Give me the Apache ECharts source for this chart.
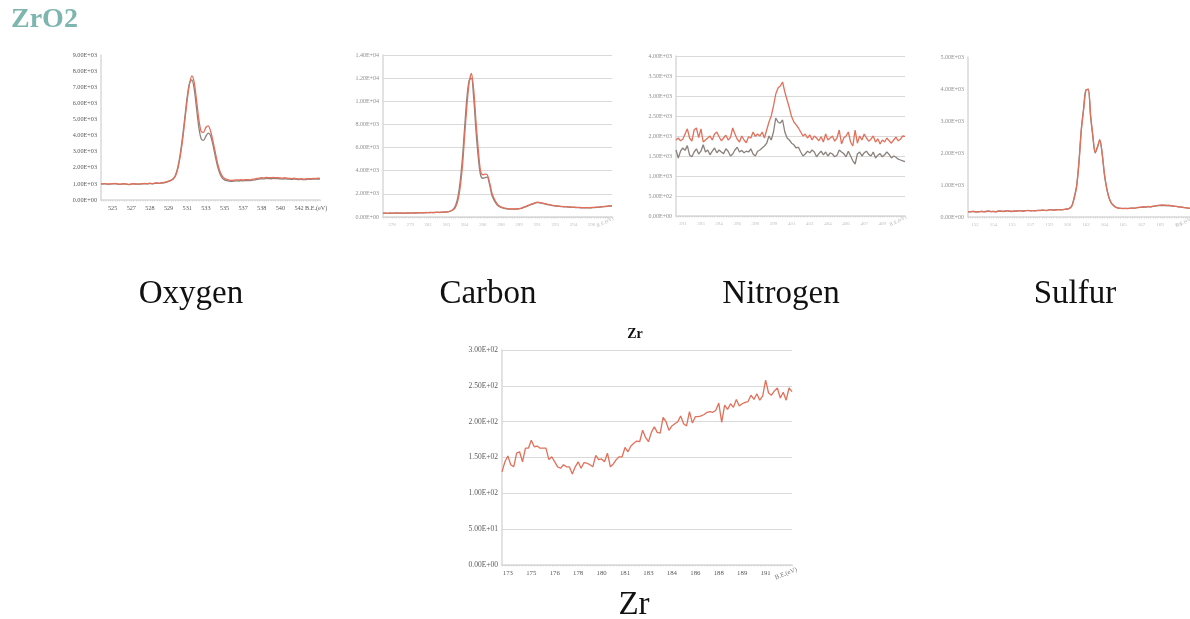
<!DOCTYPE html>
<html>
<head>
<meta charset="utf-8">
<script src="https://cdn.jsdelivr.net/npm/echarts@6/dist/echarts.min.js"></script>
<style>
  html, body { margin: 0; padding: 0; background: #ffffff; }
  #chart { width: 1190px; height: 619px; }
</style>
</head>
<body>
<div id="chart"></div>
<script>
// ---- O 1s (two scans) ----
const oTicks = ['525', '527', '528', '529', '531', '533', '535', '537', '538', '540', '542'];
const oRed = [
  1010, 1000, 1020, 990, 1000, 1010, 1030, 1000, 980, 1000,
  1010, 990, 970, 1000, 1010, 1000, 990, 1000, 1020, 1030,
  1010, 1040, 1020, 1050, 1060, 1040, 1070, 1090, 1120, 1170,
  1220, 1300, 1500, 1950, 2700, 3700, 4950, 6200, 7200, 7700,
  7300, 6200, 5000, 4250, 4200, 4500, 4600, 4300, 3700, 3000,
  2300, 1800, 1500, 1350, 1280, 1240, 1220, 1230, 1250, 1240,
  1260, 1240, 1270, 1260, 1250, 1290, 1300, 1340, 1360, 1380,
  1370, 1400, 1390, 1380, 1400, 1380, 1390, 1370, 1360, 1380,
  1350, 1340, 1330, 1350, 1320, 1310, 1320, 1300, 1310, 1330,
  1320, 1340, 1330, 1350, 1340
];
const oGray = [
  990, 1000, 1000, 980, 990, 1000, 1010, 990, 970, 990,
  1000, 980, 960, 990, 1000, 990, 980, 990, 1000, 1010,
  1000, 1020, 1010, 1030, 1040, 1030, 1050, 1070, 1100, 1150,
  1220, 1320, 1550, 2050, 2850, 3900, 5150, 6400, 7250, 7450,
  6900, 5700, 4500, 3800, 3700, 3950, 4150, 4000, 3450, 2750,
  2100, 1650, 1380, 1250, 1200, 1170, 1160, 1170, 1190, 1180,
  1200, 1190, 1210, 1200, 1200, 1230, 1250, 1280, 1300, 1320,
  1310, 1340, 1330, 1320, 1340, 1330, 1330, 1310, 1300, 1320,
  1300, 1290, 1280, 1300, 1280, 1270, 1280, 1260, 1270, 1290,
  1280, 1300, 1290, 1300, 1300
];

// ---- C 1s ----
const cTicks = ['278', '279', '281', '283', '284', '286', '288', '289', '291', '293', '294', '296'];
const cRed = [
  330, 340, 320, 350, 330, 340, 360, 340, 350, 330,
  350, 360, 340, 370, 350, 360, 380, 360, 370, 390,
  380, 400, 390, 400, 410, 400, 420, 430, 440, 470,
  520, 620, 850, 1400, 2500, 4300, 7000, 9600, 11600, 12400,
  11000, 8300, 5900, 4000, 3650, 3700, 3650, 3000, 2100, 1600,
  1250, 1000, 880, 800, 760, 720, 700, 690, 690, 700,
  720, 760, 850, 920, 1000, 1080, 1150, 1220, 1280, 1260,
  1230, 1180, 1130, 1080, 1040, 1000, 970, 950, 930, 910,
  900, 890, 870, 860, 850, 840, 830, 820, 810, 800,
  810, 800, 820, 830, 850, 860, 880, 900, 920, 940,
  970, 980
];
const cGray = [
  310, 330, 310, 330, 320, 330, 340, 330, 330, 320,
  340, 340, 330, 350, 340, 350, 360, 350, 360, 370,
  370, 380, 380, 390, 400, 390, 410, 420, 430, 460,
  540, 680, 1000, 1700, 3000, 5000, 7700, 10300, 11800, 12000,
  10300, 7500, 5200, 3650, 3350, 3400, 3450, 2800, 1900, 1450,
  1130, 920, 820, 760, 720, 690, 680, 680, 680, 690,
  710, 740, 820, 890, 970, 1050, 1120, 1190, 1250, 1230,
  1200, 1150, 1100, 1060, 1020, 980, 950, 930, 910, 890,
  880, 870, 850, 840, 830, 820, 810, 800, 790, 780,
  790, 780, 800, 810, 830, 840, 860, 880, 900, 920,
  950, 960
];

// ---- N 1s ----
const nTicks = ['391', '393', '394', '396', '398', '399', '401', '403', '404', '406', '407', '409'];
const nRed = [
  1900, 1950, 1880, 1920, 2050, 2180, 1950, 1870, 2150, 2200,
  1960, 2180, 1850, 1900, 1950, 2000, 1900, 2050, 2100, 1980,
  1880, 1950, 2020, 1900, 1960, 2200, 2050, 1920, 1850, 2000,
  1900, 1830, 1980, 1950, 2100, 1990, 2050, 2000, 2100, 1950,
  2150, 2350, 2500, 2750, 3050, 3200, 3250, 3350, 3100, 2900,
  2700, 2480, 2350, 2280, 2200, 2100, 2000, 2050, 1950, 2030,
  1900, 2000, 1950, 1880, 1980, 1850, 2050, 1900, 1950, 2000,
  1870, 1950, 2150, 1800, 1950, 2000, 2100, 1850, 1750, 2150,
  1820, 2000, 1900, 2050, 1950, 1870, 1920, 2000, 1850, 1930,
  1800, 1900, 1850, 1950, 1880, 1820, 1900, 1970, 1880, 1920,
  2000, 1990
];
const nGray = [
  1650, 1450, 1620, 1700, 1640, 1760, 1520, 1480, 1600, 1680,
  1550, 1620, 1780, 1600, 1650, 1530, 1620, 1700, 1580, 1650,
  1600, 1560, 1680, 1620, 1500, 1550, 1650, 1720, 1600, 1640,
  1580, 1620, 1600, 1680, 1550, 1500, 1620, 1650, 1700, 1750,
  1820, 2000, 1900, 2100, 2450, 2350, 2320, 2400, 2100, 1950,
  1900, 1820, 1780, 1700, 1720, 1600, 1500, 1550, 1620, 1580,
  1650, 1600, 1480, 1560, 1620, 1530, 1600, 1500, 1580, 1550,
  1480, 1520, 1650, 1600, 1560, 1480, 1620, 1500, 1380, 1300,
  1550, 1600, 1500, 1580, 1620, 1540, 1500, 1600, 1450, 1520,
  1560, 1480, 1530, 1600, 1540, 1450, 1500, 1470, 1420, 1400,
  1380, 1360
];

// ---- S 2p ----
const sTicks = ['152', '154', '155', '157', '159', '160', '162', '164', '165', '167', '169', '170'];
const sRed = [
  170, 160, 180, 170, 150, 170, 180, 160, 170, 190,
  170, 180, 160, 180, 190, 170, 180, 200, 180, 170,
  190, 180, 200, 190, 180, 200, 210, 190, 200, 190,
  210, 200, 220, 210, 200, 220, 230, 210, 220, 230,
  220, 230, 240, 250, 270, 350, 600, 950, 1700, 2700,
  3350, 3950, 4000, 3200, 2550, 2020, 2200, 2420, 2000, 1350,
  900, 600, 440, 360, 300, 280, 270, 260, 270, 260,
  270, 280, 270, 290, 300, 310, 320, 310, 330, 320,
  340, 350, 360, 370, 380, 370, 360, 370, 350, 340,
  330, 320, 310, 300, 290, 280, 270
];
const sGray = [
  160, 170, 170, 160, 160, 170, 170, 170, 180, 180,
  170, 170, 170, 180, 180, 180, 180, 190, 180, 180,
  180, 190, 190, 190, 190, 200, 200, 200, 200, 200,
  200, 210, 210, 210, 210, 220, 220, 220, 220, 230,
  230, 230, 240, 250, 280, 370, 640, 1000, 1750, 2750,
  3400, 3980, 3980, 3150, 2500, 2000, 2180, 2400, 1980, 1320,
  880, 590, 430, 350, 300, 280, 270, 270, 270, 270,
  270, 280, 280, 290, 300, 300, 310, 310, 320, 320,
  330, 340, 350, 360, 360, 360, 360, 350, 350, 340,
  330, 320, 310, 300, 290, 280, 270
];

// ---- Zr 3d ----
const zrTicks = ['173', '175', '176', '178', '180', '181', '183', '184', '186', '188', '189', '191'];
const zrRed = [
  130, 144, 152, 140, 137, 156, 158, 144, 163, 163,
  174, 165, 166, 163, 163, 163, 147, 151, 144, 137,
  135, 140, 137, 137, 127, 137, 144, 135, 143, 142,
  140, 137, 153, 147, 148, 144, 156, 137, 141, 147,
  151, 151, 164, 158, 166, 170, 173, 172, 188, 178,
  172, 185, 193, 185, 184, 206, 200, 188, 194, 197,
  200, 208, 197, 194, 214, 198, 207, 207, 208, 210,
  213, 214, 213, 216, 226, 199, 223, 217, 225, 220,
  231, 222, 225, 227, 228, 237, 231, 239, 230, 236,
  258, 240, 237, 243, 247, 233, 241, 230, 247, 242
];

const SERIF = '"Liberation Serif", "DejaVu Serif", serif';
const RED = '#E2705A';
const GRAY = '#8b817c';
const AXIS = '#d9d9d9';

// y-axis numbers in the 0.00E+00 style
function sci(v) {
  if (v === 0) return '0.00E+00';
  const e = Math.floor(Math.log10(Math.abs(v)) + 1e-9);
  const m = v / Math.pow(10, e);
  return m.toFixed(2) + 'E' + (e < 0 ? '-' : '+') + String(Math.abs(e)).padStart(2, '0');
}
// binding-energy sampling grid for a scan
function energies(n, start, step) {
  return Array.from({ length: n }, (_, i) => (start + i * step).toFixed(2));
}

const panels = [
  { box: { left: 101, top: 55, width: 219, height: 145 }, cats: energies(oRed.length, 524.0, 0.206),
    ticks: oTicks, off: 5, every: 8, ymax: 9000, yint: 1000, split: false,
    yColor: '#5a5a5a', ySize: 6.2, xColor: '#5a5a5a', xSize: 6.2, lines: [oGray, oRed], smooth: 0.3 },
  { box: { left: 383, top: 55, width: 229, height: 162 }, cats: energies(cRed.length, 276.8, 0.206),
    ticks: cTicks, off: 4, every: 8, ymax: 14000, yint: 2000, split: true,
    yColor: '#8e8e8e', ySize: 6, xColor: '#c2c2c2', xSize: 5, lines: [cGray, cRed], smooth: 0.3 },
  { box: { left: 676, top: 56, width: 229, height: 160 }, cats: energies(nRed.length, 390.3, 0.206),
    ticks: nTicks, off: 3, every: 8, ymax: 4000, yint: 500, split: true,
    yColor: '#8e8e8e', ySize: 6, xColor: '#c2c2c2', xSize: 5, lines: [nGray, nRed], smooth: false },
  { box: { left: 968, top: 57, width: 222, height: 160 }, cats: energies(sRed.length, 151.4, 0.206),
    ticks: sTicks, off: 3, every: 8, ymax: 5000, yint: 1000, split: false,
    yColor: '#8e8e8e', ySize: 6, xColor: '#c2c2c2', xSize: 5, lines: [sGray, sRed], smooth: 0.3 },
  { box: { left: 502, top: 350, width: 290, height: 215 }, cats: energies(zrRed.length, 172.8, 0.2),
    ticks: zrTicks, off: 2, every: 8, ymax: 300, yint: 50, split: true,
    yColor: '#5a5a5a', ySize: 7.5, xColor: '#5a5a5a', xSize: 6.8, lines: [zrRed], smooth: false }
];

const grids = [], xAxes = [], yAxes = [], series = [];
panels.forEach((p, k) => {
  grids.push(Object.assign({ containLabel: false }, p.box));
  xAxes.push({
    gridIndex: k, type: 'category', data: p.cats, boundaryGap: false,
    axisLine: { show: true, lineStyle: { color: AXIS, width: 1.5 } },
    axisTick: { show: true, interval: 0, length: 1.5, lineStyle: { color: '#cfcfcf', width: 0.6 } },
    axisLabel: {
      interval: (i) => i >= p.off && (i - p.off) % p.every === 0 && (i - p.off) / p.every < p.ticks.length,
      formatter: (v, i) => p.ticks[(i - p.off) / p.every],
      color: p.xColor, fontSize: p.xSize, fontFamily: SERIF, margin: 5
    },
    splitLine: { show: false }
  });
  yAxes.push({
    gridIndex: k, type: 'value', min: 0, max: p.ymax, interval: p.yint,
    axisLine: { show: true, lineStyle: { color: AXIS, width: 1.5 } },
    axisTick: { show: false },
    splitLine: { show: p.split, lineStyle: { color: AXIS, width: 1 } },
    axisLabel: { formatter: sci, color: p.yColor, fontSize: p.ySize, fontFamily: SERIF, margin: 4 }
  });
  p.lines.forEach((d, j) => {
    const isRed = (j === p.lines.length - 1);
    series.push({
      type: 'line', xAxisIndex: k, yAxisIndex: k, data: d,
      showSymbol: false, smooth: p.smooth, animation: false,
      lineStyle: { color: isRed ? RED : GRAY, width: 1.3 },
      z: isRed ? 3 : 2
    });
  });
});

const captionStyle = { fontFamily: SERIF, fontSize: 33, fill: '#111111', textAlign: 'center', textVerticalAlign: 'middle' };
const graphic = [
  { type: 'text', left: 11, top: 6, style: { text: 'ZrO2', fontFamily: SERIF, fontSize: 28, fontWeight: 'bold', fill: '#7db6ae' } },
  { type: 'text', x: 191, y: 294, style: Object.assign({ text: 'Oxygen' }, captionStyle) },
  { type: 'text', x: 488, y: 294, style: Object.assign({ text: 'Carbon' }, captionStyle) },
  { type: 'text', x: 781, y: 294, style: Object.assign({ text: 'Nitrogen' }, captionStyle) },
  { type: 'text', x: 1075, y: 294, style: Object.assign({ text: 'Sulfur' }, captionStyle) },
  { type: 'text', x: 634, y: 605, style: Object.assign({ text: 'Zr' }, captionStyle) },
  { type: 'text', x: 635, y: 334, style: { text: 'Zr', fontFamily: SERIF, fontSize: 14, fontWeight: 'bold', fill: '#111', textAlign: 'center', textVerticalAlign: 'middle' } },
  // axis titles at the right end of each energy axis
  { type: 'text', x: 305, y: 208, style: { text: 'B.E.(eV)', fontFamily: SERIF, fontSize: 6.2, fill: '#5a5a5a', textVerticalAlign: 'middle' } },
  { type: 'text', x: 775, y: 578, rotation: 0.38, style: { text: 'B.E.(eV)', fontFamily: SERIF, fontSize: 6.5, fill: '#7a7a7a', textVerticalAlign: 'middle' } },
  { type: 'text', x: 597, y: 226, rotation: 0.45, style: { text: 'B.E.(eV)', fontFamily: SERIF, fontSize: 5, fill: '#b5b5b5', textVerticalAlign: 'middle' } },
  { type: 'text', x: 890, y: 225, rotation: 0.45, style: { text: 'B.E.(eV)', fontFamily: SERIF, fontSize: 5, fill: '#b5b5b5', textVerticalAlign: 'middle' } },
  { type: 'text', x: 1176, y: 226, rotation: 0.45, style: { text: 'B.E.(eV)', fontFamily: SERIF, fontSize: 5, fill: '#b5b5b5', textVerticalAlign: 'middle' } }
];

const chart = echarts.init(document.getElementById('chart'), null, { renderer: 'canvas' });
chart.setOption({
  backgroundColor: '#ffffff',
  animation: false,
  grid: grids,
  xAxis: xAxes,
  yAxis: yAxes,
  series: series,
  graphic: graphic
});
</script>
</body>
</html>
